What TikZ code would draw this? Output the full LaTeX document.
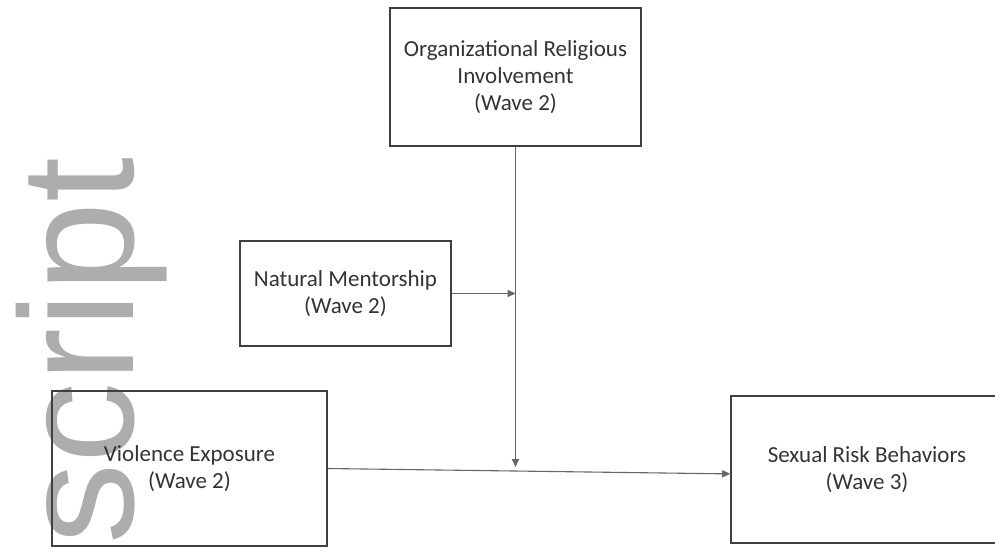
\documentclass[tikz,border=0pt]{standalone}
\usepackage{fontspec}
\setmainfont{Carlito}
\newfontfamily\wmfont{Liberation Sans}
\usetikzlibrary{arrows.meta}

\begin{document}
\begin{tikzpicture}[x=0.5pt, y=-0.5pt, main/.style = {draw=black!75, line width=0.8pt, align=center, inner sep=0pt, text=black!80, font=\fontsize{11.5}{13.5}\selectfont}, link/.style = {draw=black!60, line width=0.55pt, -{Triangle[length=4pt, width=3.6pt]}}]
        \useasboundingbox (0,0) rectangle (995,552);
        \node[rotate=90, anchor=base west, inner sep=0pt, text=black!32, font=\wmfont\fontsize{81}{81}\selectfont] (wm) at (133,545) {script};
        \node[main, minimum width=125.5pt, minimum height=69pt] (org) at (515.5,77) {Organizational Religious\\Involvement\\(Wave 2)};
        \node[main, minimum width=105.5pt, minimum height=52.5pt] (nm) at (345.5,293.5) {Natural Mentorship\\(Wave 2)};
        \node[main, minimum width=137.5pt, minimum height=77.5pt] (ve) at (189.5,468.5) {Violence Exposure\\(Wave 2)};
        \node[main, minimum width=136pt, minimum height=73.5pt] (sr) at (867,469.5) {Sexual Risk Behaviors\\(Wave 3)};
        \coordinate (mj) at (nm.east -| org.south);
        \coordinate (vj) at (515.5,467);
        \draw[link] (org) -- (vj);
        \draw[link] (nm) -- (mj);
        \draw[link] (ve.east) -- ([yshift=-2.2pt]sr.west);
    \end{tikzpicture}
\end{document}
